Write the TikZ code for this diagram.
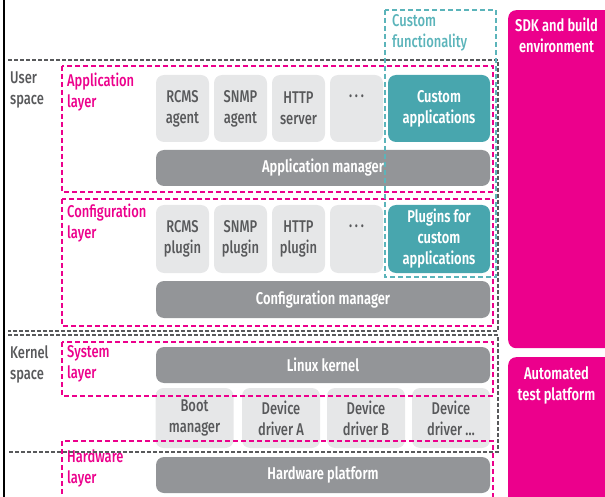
\documentclass[tikz,border=0pt]{standalone}
\usepackage{fontspec}
\setmainfont{Fira Sans}[FakeStretch=0.76, UprightFont=* Medium, BoldFont=* SemiBold]
\definecolor{boxgray}{HTML}{E6E7E8}
\definecolor{mgrgray}{HTML}{939598}
\definecolor{txtgray}{HTML}{58595B}
\definecolor{custteal}{HTML}{48A6AE}
\definecolor{dashteal}{HTML}{5BB4BA}
\definecolor{sdkpink}{HTML}{EC008C}

\begin{document}
\begin{tikzpicture}[x=1pt,y=-1pt,
  font=\fontsize{17}{21}\selectfont,
  lite/.style={fill=boxgray, rounded corners=8, text=txtgray, align=center, inner sep=0},
  dark/.style={rounded corners=8, text=white, align=center, inner sep=0,
    font=\fontsize{17}{21}\selectfont\bfseries},
  mgr/.style={dark, fill=mgrgray, minimum width=334, minimum height=36},
  cust/.style={dark, fill=custteal, minimum width=102},
  side/.style={fill=sdkpink, rounded corners=8, inner sep=0, minimum width=112, anchor=north west},
  sidetxt/.style={text=white, align=center, font=\fontsize{17}{21}\selectfont\bfseries},
  spacelbl/.style={text=txtgray, align=left, anchor=west, inner sep=0},
  layerlbl/.style={text=sdkpink, align=left, anchor=west, inner sep=0},
  gdash/.style={draw=txtgray, line width=1.2, dash pattern=on 4 off 2},
  pdash/.style={draw=sdkpink, line width=1.2, dash pattern=on 5 off 3},
  tdash/.style={draw=dashteal, line width=1.1, dash pattern=on 5 off 3}]

\useasboundingbox (0,0) rectangle (605,497);
\clip (0,0) rectangle (605,497);

\foreach \n/\t [count=\i from 0] in {rcmsA/{RCMS\\agent}, snmpA/{SNMP\\agent}, httpA/{HTTP\\server}, moreA/{\bfseries·\,·\,·\\\mbox{}}}
  \node[lite, minimum width=53, minimum height=67] (\n) at (182.5+58*\i,108.5) {\t};
\node[cust, minimum height=67] (custApp) at (439,108.5) {Custom\\applications};
\node[mgr] (appMgr) at (323,168) {Application manager};

\foreach \n/\t [count=\i from 0] in {rcmsP/{RCMS\\plugin}, snmpP/{SNMP\\plugin}, httpP/{HTTP\\plugin}, moreP/{\bfseries·\,·\,·\\\mbox{}}}
  \node[lite, minimum width=53, minimum height=68] (\n) at (182.5+58*\i,239) {\t};
\node[cust, minimum height=68] (custPlug) at (439,239) {Plugins for\\custom\\applications};
\node[mgr, minimum height=37] (cfgMgr) at (323,299.5) {Configuration manager};

\node[mgr] (kernel) at (323,365) {Linux kernel};
\foreach \n/\x/\t in {boot/194.5/{Boot\\manager}, drvA/281/{Device\\driver A}, drvB/366/{Device\\driver B}, drvN/451/{Device\\driver \dots}}
  \node[lite, minimum width=78, minimum height=60] (\n) at (\x,418) {\t};
\node[mgr] (hwPlat) at (323,475) {Hardware platform};

\node[side, minimum height=338] (sdk) at (508,10) {};
\node[sidetxt] (sdkTxt) at (556.5,35.5) {SDK and build\\environment};
\node[side, minimum height=160] (test) at (508,357) {};
\node[sidetxt] (testTxt) at (556.5,385) {Automated\\test platform};

\node[spacelbl] (userLbl) at (10,90) {User\\space};
\node[spacelbl] (kernLbl) at (10,364) {Kernel\\space};
\node[layerlbl] (appLbl) at (67,92) {Application\\layer};
\node[layerlbl] (cfgLbl) at (67,223.5) {Configuration\\layer};
\node[layerlbl] (sysLbl) at (67,364) {System\\layer};
\node[layerlbl] (hwLbl) at (67,468) {Hardware\\layer};
\node[text=dashteal, align=left, anchor=west, inner sep=0] (custLbl) at (392,33) {Custom\\functionality};

\draw[line width=2] (4,0) -- (4,497);
\draw[gdash] (8,60) -- (498,60) -- (498,331) -- (8,331);
\draw[gdash] (8,335) -- (498,335) -- (498,452) -- (8,452);
\draw[pdash] (62,66) rectangle (493,192);
\draw[pdash] (62,199) rectangle (493,326);
\draw[pdash] (62,342) rectangle (493,396);
\draw[pdash] (62,510) -- (62,441) -- (493,441) -- (493,510);
\draw[tdash] (385,10) rectangle (496,277);
\end{tikzpicture}
\end{document}
